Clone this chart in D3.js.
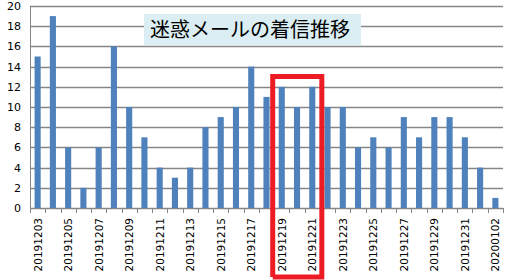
<!DOCTYPE html>
<html>
<head>
<meta charset="utf-8">
<script src="https://cdn.jsdelivr.net/npm/d3@7"></script>
<style>
  body { margin: 0; background: #fff; }
  svg { display: block; }
</style>
</head>
<body>
<div id="chart"></div>
<script>
// daily spam mail counts
const dates = ['20191203', '20191204', '20191205', '20191206', '20191207', '20191208', '20191209',
  '20191210', '20191211', '20191212', '20191213', '20191214', '20191215', '20191216', '20191217',
  '20191218', '20191219', '20191220', '20191221', '20191222', '20191223', '20191224', '20191225',
  '20191226', '20191227', '20191228', '20191229', '20191230', '20191231', '20200101', '20200102'];
const counts = [15, 19, 6, 2, 6, 16, 10, 7, 4, 3, 4, 8, 9, 10, 14,
  11, 12, 10, 12, 10, 10, 6, 7, 6, 9, 7, 9, 9, 7, 4, 1];
const yTicks = [0, 2, 4, 6, 8, 10, 12, 14, 16, 18, 20];
const title = '迷惑メールの着信推移';
const highlight = ['20191219', '20191221'];

const width = 511, height = 280;
const plotLeft = 30, plotRight = 503, plotTop = 6, plotBottom = 208;

const svg = d3.select('#chart').append('svg')
  .attr('width', width)
  .attr('height', height);

const x = d3.scaleBand()
  .domain(dates)
  .range([plotLeft, plotRight])
  .paddingInner(0.6)
  .paddingOuter(0.3);

const y = d3.scaleLinear()
  .domain([0, 20])
  .range([plotBottom, plotTop]);

// gridlines
svg.append('g')
  .selectAll('line')
  .data(yTicks)
  .join('line')
  .attr('x1', plotLeft)
  .attr('x2', plotRight)
  .attr('y1', d => Math.round(y(d)) + 0.5)
  .attr('y2', d => Math.round(y(d)) + 0.5)
  .attr('stroke', '#868686')
  .attr('stroke-width', 1.5);

// y axis line
svg.append('line')
  .attr('x1', plotLeft + 0.5).attr('x2', plotLeft + 0.5)
  .attr('y1', plotTop).attr('y2', plotBottom)
  .attr('stroke', '#868686');

svg.append('g')
  .selectAll('text')
  .data(yTicks)
  .join('text')
  .attr('x', 21)
  .attr('y', d => y(d) + 4)
  .attr('text-anchor', 'end')
  .attr('font-family', 'DejaVu Sans')
  .attr('font-size', 11)
  .attr('fill', '#000')
  .text(d => d);

// bars
svg.append('g')
  .selectAll('rect')
  .data(counts)
  .join('rect')
  .attr('x', (d, i) => x(dates[i]))
  .attr('y', d => y(d))
  .attr('width', x.bandwidth())
  .attr('height', d => y(0) - y(d))
  .attr('fill', '#4F81BD');

// category tick marks
const step = x.step();
svg.append('g')
  .selectAll('line')
  .data(d3.range(dates.length + 1))
  .join('line')
  .attr('x1', i => Math.round(plotLeft + i * step) + 0.5)
  .attr('x2', i => Math.round(plotLeft + i * step) + 0.5)
  .attr('y1', plotBottom)
  .attr('y2', plotBottom + 5)
  .attr('stroke', '#868686');

// x labels, every other day
svg.append('g')
  .selectAll('text')
  .data(dates.filter((d, i) => i % 2 === 0))
  .join('text')
  .attr('transform', d => 'translate(' + (x(d) + x.bandwidth() / 2 + 4) + ',218) rotate(-90)')
  .attr('text-anchor', 'end')
  .attr('font-family', 'DejaVu Sans')
  .attr('font-size', 10.5)
  .attr('fill', '#000')
  .text(d => d);

// title box
svg.append('rect')
  .attr('x', 144).attr('y', 14)
  .attr('width', 217).attr('height', 31)
  .attr('fill', '#DAEEF3');

svg.append('text')
  .attr('x', 150).attr('y', 37)
  .attr('font-family', 'Noto Sans CJK JP')
  .attr('font-size', 20)
  .attr('fill', '#000')
  .text(title);

// red highlight frame
const hx0 = x(highlight[0]) - 6;
const hx1 = x(highlight[1]) + x.bandwidth() + 6.5;
svg.append('path')
  .attr('d', 'M' + hx0 + ',277 V76.5 H' + hx1 + ' V277 H' + hx0)
  .attr('fill', 'none')
  .attr('stroke', '#ED1C24')
  .attr('stroke-width', 5);
</script>
</body>
</html>
